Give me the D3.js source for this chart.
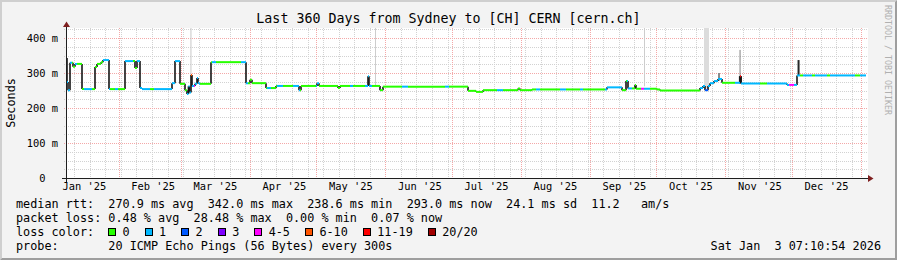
<!DOCTYPE html>
<html>
<head>
<meta charset="utf-8">
<script src="https://cdn.jsdelivr.net/npm/d3@7"></script>
<style>
  html, body { margin: 0; padding: 0; background: #f3f3f3; }
  svg { display: block; }
  text { font-family: "DejaVu Sans Mono", monospace; white-space: pre; }
</style>
</head>
<body>
<svg id="chart"></svg>
<script>
// median rtt, step breakpoints: days since the start of the window, value in ms
const medianDay = [0, 0.45, 0.9, 1.8, 3.15, 4.05, 7.2, 13.05, 13.95, 15.75, 16.65, 19.35, 26.55, 31.05, 31.95, 33.3, 34.2,
  47.7, 49.05, 51.3, 53.55, 54.45, 55.1, 55.6, 56.25, 56.7, 58.05, 58.95, 59.4, 59.85, 65.25, 81.0, 82.8, 83.7, 90.0,
  94.5, 104.85, 105.75, 112.95, 113.85, 122.4, 123.3, 135.9, 136.35, 141.3, 142.65, 180.9, 184.5, 187.65, 203.4, 204.3,
  209.7, 243.45, 250.2, 252.0, 252.9, 256.05, 256.5, 265.95, 267.3, 285.3, 286.65, 287.55, 288.9, 289.8, 291.6, 293.4,
  295.2, 303.3, 303.75, 324.45, 328.95]
const medianMs = [343, 274, 251, 329, 318, 326, 254, 317, 326, 331, 337, 254, 334, 314, 334, 257, 254,
  271, 334, 269, 251, 240, 262, 244, 294, 263, 269, 286, 272, 269, 331, 271, 281, 271, 257,
  263, 251, 263, 271, 263, 257, 263, 291, 263, 251, 261, 249, 246, 251, 256, 251,
  253, 259, 251, 277, 256, 266, 255, 253, 250, 257, 263, 251, 263, 271, 277, 283,
  272, 291, 270, 266, 293]

// loss colour class along the line (index into lossLabels)
const lossDay = [0, 2.7, 4.05, 4.95, 8.1, 11.7, 16.65, 19.8, 22.05, 23.4, 26.55, 30.15, 31.95, 37.8, 39.6, 51.3, 54.45,
  56.25, 56.7, 57.6, 58.05, 60.3, 65.7, 67.5, 78.75, 81.9, 90.45, 92.25, 94.95, 97.65, 102.15, 105.3, 112.5, 113.85,
  127.8, 129.15, 134.55, 137.7, 151.2, 153.9, 170.55, 172.35, 193.95, 196.65, 211.5, 213.3, 222.3, 225, 231.3, 232.65,
  242.55, 250.2, 252.45, 254.7, 258.75, 260.1, 262.8, 285.3, 287.55, 288.9, 295.2, 301.05, 303.3, 303.75, 312.3, 315.45,
  325.35, 327.6, 330.3, 331.65, 335.7, 337.05, 342.45, 343.8, 355.05, 357.3]
const lossClass = [1, 0, 1, 0, 1, 0, 1, 0, 1, 0, 1, 0, 1, 0, 1, 0, 1,
  5, 1, 4, 1, 0, 1, 0, 1, 0, 1, 0, 1, 0, 1, 0, 1, 0,
  1, 0, 1, 0, 1, 0, 1, 0, 1, 0, 1, 0, 1, 0, 1, 0,
  1, 0, 1, 0, 4, 1, 0, 1, 2, 1, 0, 1, 6, 1, 0, 1,
  4, 1, 0, 1, 0, 1, 0, 1, 0, 1]

const lossLabels = ['0', '1', '2', '3', '4-5', '6-10', '11-19', '20/20']
const lossColors = ['#26ff00', '#00b8ff', '#0059ff', '#7e00ff', '#ff00ff', '#ff5500', '#ff0000', '#a10000']

// smoke (spread of the pings)
const smokeDay = [56.0, 139.05, 260.1, 287.1, 293.4, 303.1, 302.8, 329.2]
const smokeSpan = [0.45, 0.45, 0.45, 2.25, 0.9, 0.45, 1.35, 0.9]
const smokeLo = [292, 265, 262, 255, 278, 291, 270, 293]
const smokeHi = [430, 430, 430, 430, 300, 366, 291, 337]
const smokeShade = ['#c8c8c8', '#cdcdcd', '#cdcdcd', '#dcdcdc', '#8c8c8c', '#808080', '#2e2e2e', '#262626']

const yTicks = [0, 100, 200, 300, 400]
const yLabels = ['0  ', '100 m', '200 m', '300 m', '400 m']
const monthLabels = ["Jan '25", "Feb '25", "Mar '25", "Apr '25", "May '25", "Jun '25",
  "Jul '25", "Aug '25", "Sep '25", "Oct '25", "Nov '25", "Dec '25"]

const rttStats = [270.9, 342.0, 238.6, 293.0]
const rttSd = 24.1
const rttAms = 11.2
const lossStats = [0.48, 28.48, 0.00, 0.07]

const W = 897
const H = 260
const t1 = new Date(Date.UTC(2026, 0, 3, 7, 10, 54))
const t0 = new Date(+t1 - 360 * 864e5)
const at = d => new Date(+t0 + d * 864e5)
const mono = '"DejaVu Sans Mono", monospace'

const x = d3.scaleUtc().domain([t0, t1]).range([66, 866])
const y = d3.scaleLinear().domain([0, 150 / 0.35]).range([178, 28]).clamp(true)
const px = v => Math.round(v) + 0.5

const svg = d3.select('#chart').attr('width', W).attr('height', H)

// background and 3d frame
svg.append('rect').attr('width', W).attr('height', H).attr('fill', '#f3f3f3')
svg.append('path').attr('d', `M0,0H${W}L${W - 2},2H2V${H - 2}L0,${H}Z`).attr('fill', '#cfcfcf')
svg.append('path').attr('d', `M${W},0V${H}H0L2,${H - 2}H${W - 2}V2Z`).attr('fill', '#9e9e9e')
svg.append('rect').attr('x', 66).attr('y', 28).attr('width', 802).attr('height', 150).attr('fill', '#fff')

// grid
const grid = svg.append('g').attr('fill', 'none').attr('stroke-dasharray', '1,1')
const hMinor = d3.range(25, y.domain()[1], 25).filter(v => v % 100)
const hMajor = yTicks.filter(v => v > 0)
const weeks = d3.utcSunday.range(t0, t1)
const months = d3.utcMonth.range(t0, t1)

grid.selectAll('.hmin').data(hMinor).enter().append('path')
  .attr('d', v => `M64,${px(y(v))}H868`).attr('stroke', '#d2d2d2')
grid.selectAll('.vmin').data(weeks).enter().append('path')
  .attr('d', d => `M${px(x(d))},28V180`).attr('stroke', '#d2d2d2')
grid.selectAll('.hmaj').data(hMajor).enter().append('path')
  .attr('d', v => `M64,${px(y(v))}H868`).attr('stroke', '#f4a8a8')
grid.selectAll('.vmaj').data(months).enter().append('path')
  .attr('d', d => `M${px(x(d))},28V180`).attr('stroke', '#f4a8a8')

// smoke
svg.append('g').selectAll('rect').data(smokeDay).enter().append('rect')
  .attr('x', (d, i) => x(at(d)))
  .attr('width', (d, i) => Math.max(1, x(at(d + smokeSpan[i])) - x(at(d))))
  .attr('y', (d, i) => y(smokeHi[i]))
  .attr('height', (d, i) => y(smokeLo[i]) - y(smokeHi[i]))
  .attr('fill', (d, i) => smokeShade[i])

// median line: black risers, loss coloured treads
const risers = medianDay.slice(1).map((d, i) => ({ d, a: medianMs[i], b: medianMs[i + 1] }))
svg.append('g').selectAll('line').data(risers).enter().append('line')
  .attr('x1', r => x(at(r.d))).attr('x2', r => x(at(r.d)))
  .attr('y1', r => y(r.a)).attr('y2', r => y(r.b))
  .attr('stroke', '#151515').attr('stroke-width', 1.6)

const cuts = Array.from(new Set([...medianDay, ...lossDay])).sort((a, b) => a - b)
const treads = cuts.map((d, i) => ({
  d0: d,
  d1: i < cuts.length - 1 ? cuts[i + 1] : 360,
  v: medianMs[d3.bisectRight(medianDay, d) - 1],
  c: lossClass[d3.bisectRight(lossDay, d) - 1]
}))
svg.append('g').selectAll('line').data(treads).enter().append('line')
  .attr('x1', s => x(at(s.d0))).attr('x2', s => x(at(s.d1)))
  .attr('y1', s => y(s.v)).attr('y2', s => y(s.v))
  .attr('stroke', s => lossColors[s.c]).attr('stroke-width', 2)

// axes lines and arrows
svg.append('path').attr('d', 'M62,178.5H869').attr('stroke', '#1f1f1f')
svg.append('path').attr('d', 'M66.5,182V26').attr('stroke', '#1f1f1f')
svg.append('path').attr('d', 'M868,175L873.5,178.5L868,182Z').attr('fill', '#7f1f1f')
svg.append('path').attr('d', 'M63,27L66.5,21.5L70,27Z').attr('fill', '#7f1f1f')

// tick labels
svg.append('g').attr('transform', 'translate(66,0)')
  .call(d3.axisLeft(y).tickValues(yTicks).tickFormat((v, i) => yLabels[i]).tickSize(0).tickPadding(8))
  .call(g => g.select('.domain').remove())
  .call(g => g.selectAll('text').attr('font-family', mono).attr('font-size', 10.4).attr('fill', '#000'))

const monthMids = monthLabels.map((m, i) => new Date(Date.UTC(2025, i, 1) + 15.3 * 864e5))
svg.append('g').attr('transform', 'translate(0,178)')
  .call(d3.axisBottom(x).tickValues(monthMids).tickFormat((d, i) => monthLabels[i]).tickSize(0).tickPadding(5))
  .call(g => g.select('.domain').remove())
  .call(g => g.selectAll('text').attr('font-family', mono).attr('font-size', 10.4).attr('fill', '#000'))

// titles
svg.append('text').attr('x', 448.5).attr('y', 23).attr('text-anchor', 'middle')
  .attr('font-size', 13.3).text('Last 360 Days from Sydney to [CH] CERN [cern.ch]')
svg.append('text').attr('transform', 'translate(14.5,103) rotate(-90)').attr('text-anchor', 'middle')
  .attr('font-size', 11.8).text('Seconds')
svg.append('text').attr('transform', 'translate(885,5) rotate(90)')
  .attr('font-size', 8.3).attr('fill', '#b0b0b0').text('RRDTOOL / TOBI OETIKER')

// legend
const cw = 11.8 * 0.6021
const lg = svg.append('g').attr('font-size', 11.8)
const f1 = v => v.toFixed(1)
const f2 = v => v.toFixed(2)
lg.append('text').attr('x', 16).attr('y', 208)
  .text(`median rtt:  ${f1(rttStats[0])} ms avg  ${f1(rttStats[1])} ms max  ${f1(rttStats[2])} ms min  ${f1(rttStats[3])} ms now  ${f1(rttSd)} ms sd  ${f1(rttAms)}   am/s`)
lg.append('text').attr('x', 16).attr('y', 222)
  .text(`packet loss: ${f2(lossStats[0])} % avg  ${f2(lossStats[1])} % max  ${f2(lossStats[2])} % min  ${f2(lossStats[3])} % now`)
lg.append('text').attr('x', 16).attr('y', 236).text('loss color:')
let bx = 16 + 13 * cw
lossLabels.forEach((l, i) => {
  lg.append('rect').attr('x', Math.round(bx) + 0.5).attr('y', 228.5).attr('width', 7).attr('height', 7)
    .attr('fill', lossColors[i]).attr('stroke', '#000')
  lg.append('text').attr('x', bx + 2 * cw).attr('y', 236).text(l)
  bx += (4 + l.length) * cw + 1
})
lg.append('text').attr('x', 16).attr('y', 250).text('probe:       20 ICMP Echo Pings (56 Bytes) every 300s')
lg.append('text').attr('x', 881).attr('y', 250).attr('text-anchor', 'end').text('Sat Jan  3 07:10:54 2026')
</script>
</body>
</html>
